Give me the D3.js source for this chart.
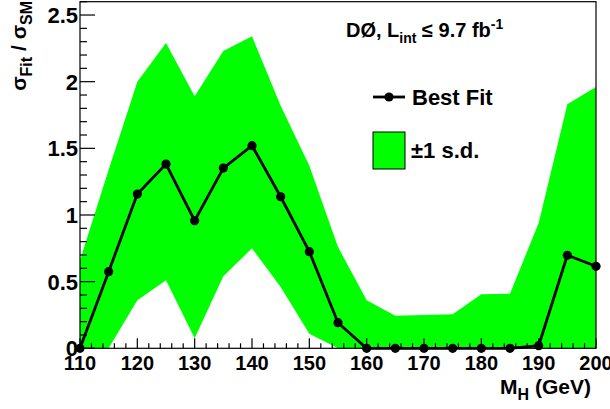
<!DOCTYPE html>
<html>
<head>
<meta charset="utf-8">
<script src="https://cdn.jsdelivr.net/npm/d3@7"></script>
<style>
  html, body { margin: 0; padding: 0; background: #fff; }
  svg { display: block; font-family: "Liberation Sans", Arial, Helvetica, sans-serif; font-weight: bold; }
</style>
</head>
<body>
<svg id="chart" width="610" height="409"></svg>
<script>
// ---- data ----
const masses = [110, 115, 120, 125, 130, 135, 140, 145, 150, 155, 160, 165, 170, 175, 180, 185, 190, 195, 200];
const bestFit = [0, 0.575, 1.157, 1.382, 0.957, 1.352, 1.52, 1.137, 0.725, 0.192, 0, 0, 0, 0, 0, 0, 0.02, 0.698, 0.615];
const bandUpper = [0.66, 1.34, 2.0, 2.29, 1.89, 2.23, 2.34, 1.82, 1.37, 0.76, 0.36, 0.245, 0.25, 0.255, 0.405, 0.41, 0.94, 1.83, 1.96];
const bandLower = [0, 0, 0.36, 0.51, 0.075, 0.54, 0.75, 0.46, 0.11, 0, 0, 0, 0, 0, 0, 0, 0, 0, 0];
const xTickValues = [110, 120, 130, 140, 150, 160, 170, 180, 190, 200];
const yTickValues = [0, 0.5, 1, 1.5, 2, 2.5];
const yTickLabels = ["0", "0.5", "1", "1.5", "2", "2.5"];

// ---- layout ----
const svg = d3.select("#chart");
const L = 80, R = 596, T = 1.7, B = 348.3;
const x = d3.scaleLinear().domain([110, 200]).range([L, R]);
const y = d3.scaleLinear().domain([0, 2.6]).range([B, T]);

const pts = masses.map((m, i) => ({ m, v: bestFit[i], up: bandUpper[i], lo: bandLower[i] }));

// band
const area = d3.area().x(d => x(d.m)).y0(d => y(d.lo)).y1(d => y(d.up));
svg.append("path").datum(pts).attr("d", area).attr("fill", "#00ff00").attr("stroke", "none");

// frame
svg.append("rect").attr("x", L).attr("y", T).attr("width", R - L).attr("height", B - T)
  .attr("fill", "none").attr("stroke", "#000").attr("stroke-width", 1.2);

// x ticks (inside, pointing up)
const xMinor = d3.range(110, 200.001, 2);
svg.append("g").selectAll("line").data(xMinor).join("line")
  .attr("x1", d => x(d)).attr("x2", d => x(d))
  .attr("y1", B).attr("y2", d => (d % 10 === 0 ? B - 10 : B - 5))
  .attr("stroke", "#000").attr("stroke-width", 1.2);
svg.append("g").selectAll("text").data(xTickValues).join("text")
  .attr("x", d => x(d)).attr("y", 370).attr("text-anchor", "middle")
  .attr("font-size", 20).text(d => d);

// y ticks (inside, pointing right)
const yMinor = d3.range(0, 2.6001, 0.1).map(v => Math.round(v * 10) / 10);
svg.append("g").selectAll("line").data(yMinor).join("line")
  .attr("y1", d => y(d)).attr("y2", d => y(d))
  .attr("x1", L).attr("x2", d => (Math.abs(d * 2 - Math.round(d * 2)) < 1e-6 ? L + 15 : L + 7))
  .attr("stroke", "#000").attr("stroke-width", 1.2);
svg.append("g").selectAll("text").data(yTickValues).join("text")
  .attr("x", 78).attr("y", d => y(d)).attr("dy", "0.36em").attr("text-anchor", "end")
  .attr("font-size", 22).text((d, i) => yTickLabels[i]);

// best fit line & markers
const line = d3.line().x(d => x(d.m)).y(d => y(d.v));
svg.append("path").datum(pts).attr("d", line).attr("fill", "none")
  .attr("stroke", "#000").attr("stroke-width", 2.8).attr("stroke-linejoin", "miter");
svg.append("g").selectAll("circle").data(pts).join("circle")
  .attr("cx", d => x(d.m)).attr("cy", d => y(d.v)).attr("r", 4.6).attr("fill", "#000");

// axis titles
const xt = svg.append("text").attr("x", 591).attr("y", 394).attr("text-anchor", "end").attr("font-size", 21);
xt.append("tspan").text("M");
xt.append("tspan").attr("dy", 6).attr("font-size", 16).text("H");
xt.append("tspan").attr("dy", -6).text(" (GeV)");

const yt = svg.append("text").attr("transform", "translate(26,1) rotate(-90)")
  .attr("text-anchor", "end").attr("font-size", 21);
yt.append("tspan").text("σ");
yt.append("tspan").attr("dy", 6).attr("font-size", 16).text("Fit");
yt.append("tspan").attr("dy", -6).text(" / σ");
yt.append("tspan").attr("dy", 6).attr("font-size", 16).text("SM");

// legend
const lt = svg.append("text").attr("x", 346).attr("y", 37).attr("font-size", 20);
lt.append("tspan").text("DØ, L");
lt.append("tspan").attr("dy", 6).attr("font-size", 14).text("int");
lt.append("tspan").attr("dy", -6).text(" ≤ 9.7 fb");
lt.append("tspan").attr("dy", -8).attr("font-size", 14).text("-1");

svg.append("line").attr("x1", 373).attr("x2", 405).attr("y1", 97).attr("y2", 97)
  .attr("stroke", "#000").attr("stroke-width", 2.8);
svg.append("circle").attr("cx", 389).attr("cy", 97).attr("r", 4.6).attr("fill", "#000");
svg.append("text").attr("x", 412).attr("y", 105).attr("font-size", 22).text("Best Fit");

svg.append("rect").attr("x", 373).attr("y", 132).attr("width", 32).attr("height", 37)
  .attr("fill", "#00ff00").attr("stroke", "#000").attr("stroke-width", 1);
svg.append("text").attr("x", 411).attr("y", 158).attr("font-size", 22).text("±1 s.d.");
</script>
</body>
</html>
